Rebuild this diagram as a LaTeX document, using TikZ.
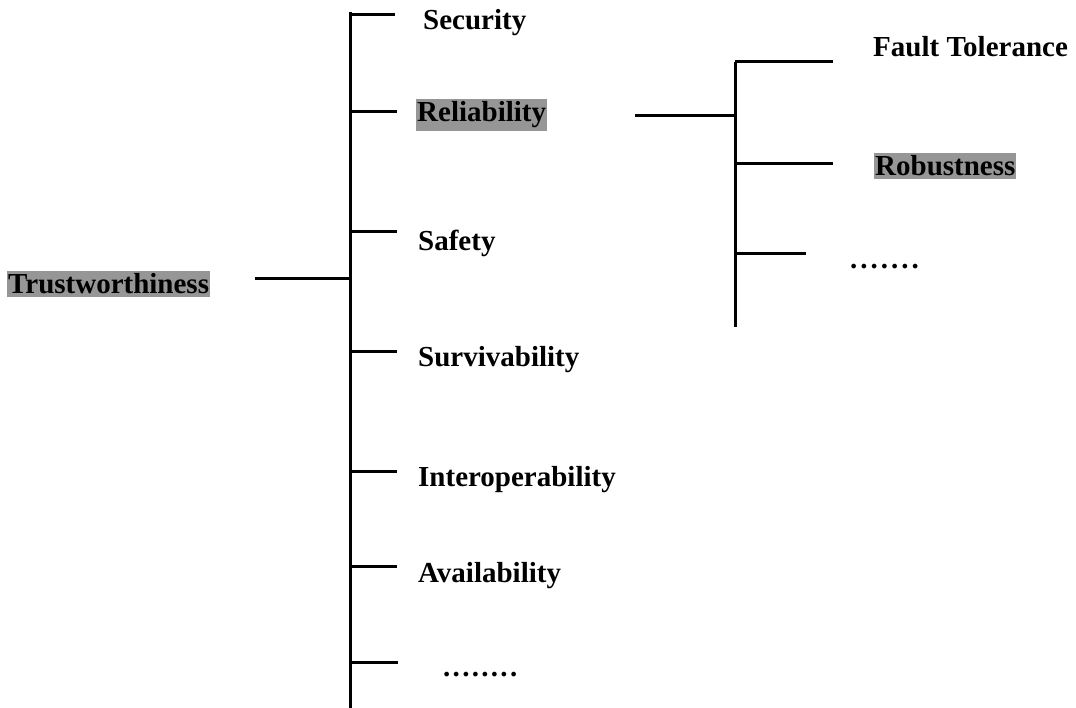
\documentclass[tikz,border=0pt]{standalone}
\usepackage{fontspec}
\setmainfont{Liberation Serif}
\definecolor{hl}{RGB}{150,150,150}
\begin{document}
\begin{tikzpicture}[x=1pt,y=-1pt,
  lbl/.style={anchor=west,inner sep=2pt,font=\fontsize{29}{32}\selectfont\bfseries},
  hlbl/.style={lbl,fill=hl,inner xsep=1pt,inner ysep=3pt},
  ln/.style={line width=3pt}]
\useasboundingbox (0,0) rectangle (1076,708);
% labels
\node[hlbl] (trust) at (7,284) {Trustworthiness};
\node[lbl] (sec) at (421,23) {Security};
\node[hlbl] (rel) at (416,115) {Reliability};
\node[lbl] (saf) at (416,243) {Safety};
\node[lbl] (sur) at (416,360) {Survivability};
\node[lbl] (inter) at (416,480) {Interoperability};
\node[lbl] (avail) at (416,576) {Availability};
\node[lbl] (dotsA) at (441,675) {.\kern2.3pt.\kern2.3pt.\kern2.3pt.\kern2.3pt.\kern2.3pt.\kern2.3pt.\kern2.3pt.};
\node[lbl] (ft) at (871,47) {Fault Tolerance};
\node[hlbl] (rob) at (874,166) {Robustness};
\node[lbl] (dotsB) at (848,267) {.\kern3pt.\kern3pt.\kern3pt.\kern3pt.\kern3pt.\kern3pt.};
% main spine
\coordinate (sTop) at (350,12);
\coordinate (sBot) at (350,708);
\coordinate (sMid) at (350,279);
\coordinate (tEnd) at (255,279);
\draw[ln] (sTop) -- (sBot);
\draw[ln] (tEnd) -- (sMid);
\foreach \n/\y/\e in {sec/15/395,rel/112/397,saf/232/397,sur/352/397,inter/471/397,avail/566/397,dotsA/662/398}{
  \coordinate (a\n) at (350,\y);
  \coordinate (b\n) at (\e,\y);
  \draw[ln] (a\n) -- (b\n);
}
% right sub-tree
\coordinate (rTop) at (735,62);
\coordinate (rBot) at (735,327);
\coordinate (rMid) at (735,116);
\coordinate (rIn) at (635,116);
\draw[ln] (rTop) -- (rBot);
\draw[ln] (rIn) -- (rMid);
\foreach \n/\y/\e in {ft/62/833,rob/164/833,dotsB/254/806}{
  \coordinate (a\n) at (735,\y);
  \coordinate (b\n) at (\e,\y);
  \draw[ln] (a\n) -- (b\n);
}
\end{tikzpicture}
\end{document}
